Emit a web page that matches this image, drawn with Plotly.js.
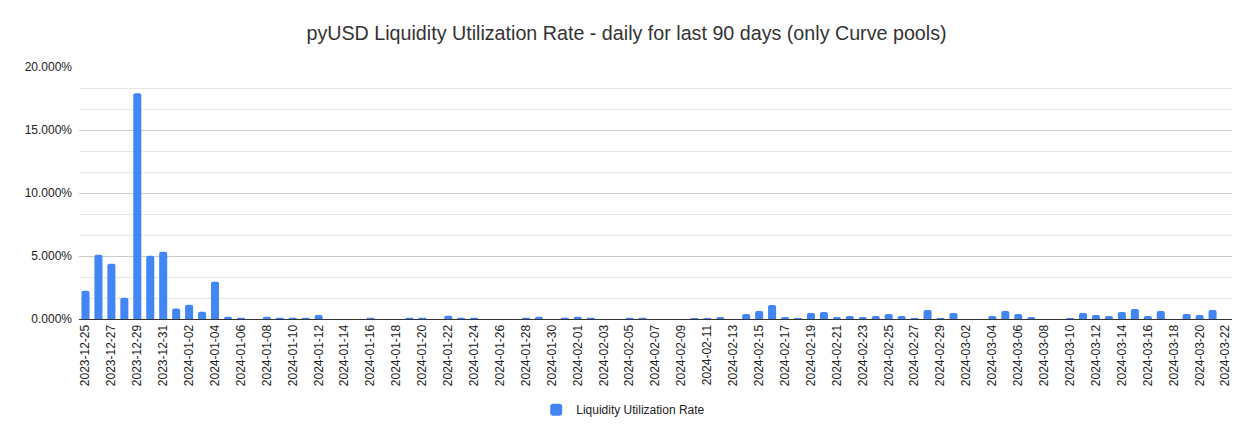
<!DOCTYPE html>
<html>
<head>
<meta charset="utf-8">
<script src="https://cdn.plot.ly/plotly-3.0.1.min.js"></script>
<style>html,body{margin:0;padding:0;background:#fff;}#chart{width:1253px;height:440px;}</style>
</head>
<body>
<div id="chart"></div>
<script>
const dates = [
"2023-12-25","2023-12-26","2023-12-27","2023-12-28","2023-12-29","2023-12-30","2023-12-31",
"2024-01-01","2024-01-02","2024-01-03","2024-01-04","2024-01-05","2024-01-06","2024-01-07","2024-01-08","2024-01-09","2024-01-10",
"2024-01-11","2024-01-12","2024-01-13","2024-01-14","2024-01-15","2024-01-16","2024-01-17","2024-01-18","2024-01-19","2024-01-20",
"2024-01-21","2024-01-22","2024-01-23","2024-01-24","2024-01-25","2024-01-26","2024-01-27","2024-01-28","2024-01-29","2024-01-30","2024-01-31",
"2024-02-01","2024-02-02","2024-02-03","2024-02-04","2024-02-05","2024-02-06","2024-02-07","2024-02-08","2024-02-09","2024-02-10",
"2024-02-11","2024-02-12","2024-02-13","2024-02-14","2024-02-15","2024-02-16","2024-02-17","2024-02-18","2024-02-19","2024-02-20",
"2024-02-21","2024-02-22","2024-02-23","2024-02-24","2024-02-25","2024-02-26","2024-02-27","2024-02-28","2024-02-29",
"2024-03-01","2024-03-02","2024-03-03","2024-03-04","2024-03-05","2024-03-06","2024-03-07","2024-03-08","2024-03-09","2024-03-10",
"2024-03-11","2024-03-12","2024-03-13","2024-03-14","2024-03-15","2024-03-16","2024-03-17","2024-03-18","2024-03-19","2024-03-20",
"2024-03-21","2024-03-22"
];
const utilizationDec = [0.0224,0.0509,0.0438,0.0169,0.1792,0.0501,0.0533];
const utilizationJan = [0.0084,0.0113,0.0058,0.0296,0.0018,0.0010,0,0.0018,0.0010,0.0010,
  0.0010,0.0032,0,0,0,0.0010,0,0,0.0010,0.0010,
  0,0.0026,0.0010,0.0010,0,0,0,0.0010,0.0018,0,0.0010];
const utilizationFeb = [0.0018,0.0010,0,0,0.0010,0.0010,0,0,0,0.0008,
  0.0008,0.0016,0,0.0040,0.0063,0.0111,0.0016,0.0008,0.0048,0.0055,
  0.0016,0.0024,0.0016,0.0024,0.0040,0.0024,0.0008,0.0071,0.0008];
const utilizationMar = [0.0048,0,0,0.0024,0.0063,0.0040,0.0016,0,0,0.0008,
  0.0048,0.0032,0.0024,0.0055,0.0079,0.0024,0.0063,0,0.0040,0.0032,
  0.0071,0];
const utilization = utilizationDec.concat(utilizationJan, utilizationFeb, utilizationMar);
const tickDates = dates.filter((d, i) => i % 2 === 0);

const FONT = '"Liberation Sans", Arial, sans-serif';

const trace = {
  type: 'bar',
  x: dates,
  y: utilization,
  name: 'Liquidity Utilization Rate',
  marker: {color: '#4285f4', cornerradius: 2},
  hoverinfo: 'x+y'
};

const layout = {
  width: 1253, height: 440,
  margin: {l: 79, r: 21, t: 67, b: 121},
  paper_bgcolor: '#fff', plot_bgcolor: '#fff',
  bargap: 0.38,
  showlegend: true,
  title: {
    text: 'pyUSD Liquidity Utilization Rate - daily for last 90 days (only Curve pools)',
    font: {family: FONT, size: 19.7, color: '#333'},
    x: 0.5, xanchor: 'center', y: 0.925, yanchor: 'middle'
  },
  legend: {
    orientation: 'h', x: 0.472, xanchor: 'center', y: -0.36, yanchor: 'middle',
    font: {family: FONT, size: 12, color: '#222'}
  },
  xaxis: {
    type: 'category',
    tickmode: 'array',
    tickvals: tickDates,
    ticktext: tickDates,
    tickangle: -90,
    tickfont: {family: FONT, size: 12, color: '#222'},
    showgrid: false,
    showline: true, linecolor: '#333', linewidth: 1,
    ticks: '',
    fixedrange: true
  },
  yaxis: {
    range: [0, 0.2],
    tickmode: 'linear', tick0: 0, dtick: 0.05,
    tickformat: '.3%',
    tickfont: {family: FONT, size: 12, color: '#222'},
    gridcolor: '#cccccc', gridwidth: 1,
    zeroline: false,
    ticks: '',
    ticklabelstandoff: 6,
    minor: {dtick: 0.05/3, showgrid: true, gridcolor: '#e6e6e6', gridwidth: 1},
    fixedrange: true
  }
};

Plotly.newPlot('chart', [trace], layout, {displayModeBar: false, staticPlot: true});
</script>
</body>
</html>
